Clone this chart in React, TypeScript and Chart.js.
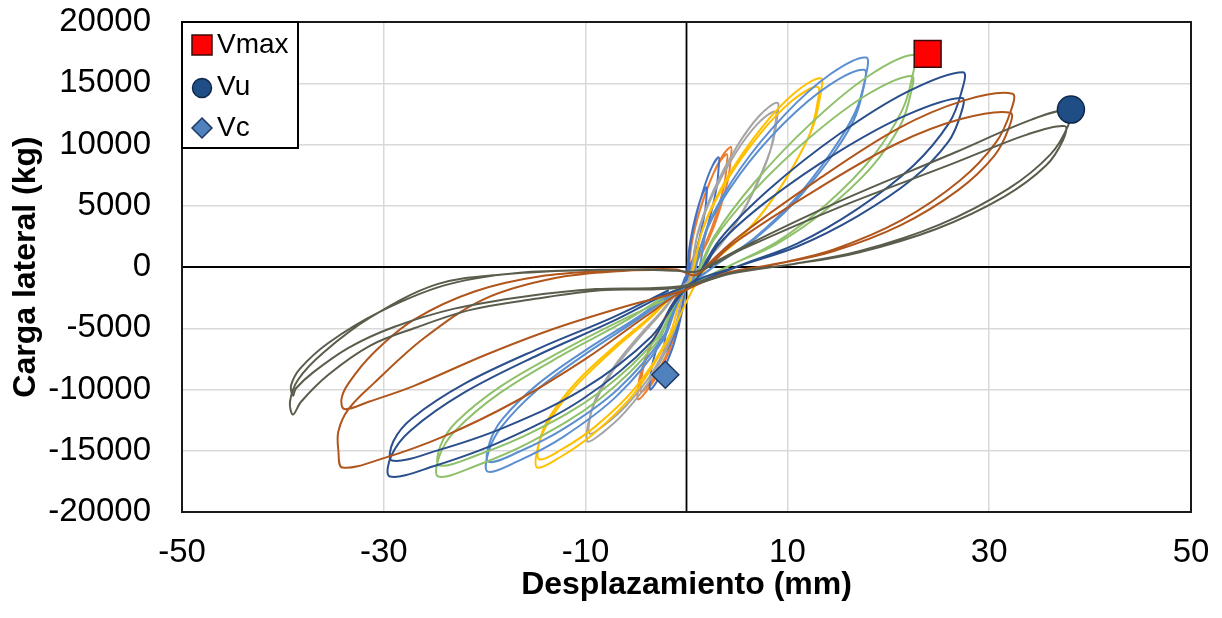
import React, { useEffect, useRef } from "react";
import { Chart, registerables } from "chart.js";

Chart.register(...registerables);

const FONT = "'Liberation Sans', Arial, Helvetica, sans-serif";

const xAxisTitle = "Desplazamiento (mm)";
const yAxisTitle = "Carga lateral (kg)";
const xMin = -50;
const xMax = 50;
const xStep = 20;
const yMin = -20000;
const yMax = 20000;
const yStep = 5000;

// Notable points
const vmaxX = [23.9];
const vmaxY = [17400];
const vuX = [38.1];
const vuY = [12850];
const vcX = [-2.1];
const vcY = [-8800];

// Hysteresis cycles (mm, kg)
const orangeX = [
  0.13, 0.53, 1.32, 2.42, 3.52, 4.4, 4.38, 4.14, 3.52, 2.64, 1.67, 0.66,
  -0.1, -0.58, -1.68, -2.98, -4.08, -4.8, -4.78, -4.46, -3.6, -2.4, -1.2, -0.29,
  0.12, 0.48, 1.2, 2.2, 3.2, 4.0, 3.98, 3.76, 3.2, 2.4, 1.52, 0.6,
  -0.09, -0.54, -1.58, -2.79, -3.83, -4.5, -4.48, -4.19, -3.38, -2.25, -1.13, -0.27,
];
const orangeY = [
  -784, 1960, 4606, 7154, 9016, 9800, 8820, 7252, 5292, 3136, 1372, 0,
  -1404, -3888, -6804, -8964, -10260, -10800, -9720, -8424, -6480, -4536, -2808, -1296,
  -736, 1840, 4324, 6716, 8464, 9200, 8280, 6808, 4968, 2944, 1288, 0,
  -1326, -3672, -6426, -8466, -9690, -10200, -9180, -7956, -6120, -4284, -2652, -1224,
];

const blueX = [
  0.06, 0.24, 0.6, 1.1, 1.6, 2.0, 1.99, 1.88, 1.6, 1.2, 0.76, 0.3,
  -0.04, -0.26, -0.77, -1.36, -1.87, -2.2, -2.19, -2.05, -1.65, -1.1, -0.55, -0.13,
  0.1, 0.38, 0.96, 1.76, 2.56, 3.2, 3.18, 3.01, 2.56, 1.92, 1.22, 0.48,
  -0.07, -0.43, -1.26, -2.23, -3.06, -3.6, -3.58, -3.35, -2.7, -1.8, -0.9, -0.22,
];
const blueY = [
  -520, 1300, 3055, 4745, 5980, 6500, 5850, 4810, 3510, 2080, 910, 0,
  -910, -2520, -4410, -5810, -6650, -7000, -6300, -5460, -4200, -2940, -1820, -840,
  -716, 1790, 4207, 6534, 8234, 8950, 8055, 6623, 4833, 2864, 1253, 0,
  -1300, -3600, -6300, -8300, -9500, -10000, -9000, -7800, -6000, -4200, -2600, -1200,
];

const grayX = [
  0.6, 1.08, 2.7, 4.95, 7.2, 9.0, 8.96, 8.46, 7.2, 5.4, 3.42, 1.35,
  -0.2, -1.18, -3.43, -6.08, -8.33, -9.8, -9.75, -9.11, -7.35, -4.9, -2.45, -0.59,
  0.26, 1.06, 2.64, 4.84, 7.04, 8.8, 8.76, 8.27, 7.04, 5.28, 3.34, 1.32,
  -0.19, -1.15, -3.36, -5.95, -8.16, -9.6, -9.55, -8.93, -7.2, -4.8, -2.4, -0.58,
];
const grayY = [
  -600, 2680, 6298, 9782, 12328, 13400, 12060, 9916, 7236, 4288, 1876, 0,
  -1853, -5130, -8978, -11828, -13538, -14250, -12825, -11115, -8550, -5985, -3705, -1710,
  -1016, 2540, 5969, 9271, 11684, 12700, 11430, 9398, 6858, 4064, 1778, 0,
  -1768, -4896, -8568, -11288, -12920, -13600, -12240, -10608, -8160, -5712, -3536, -1632,
];

const yellowX = [
  0.4, 1.6, 3.99, 7.32, 10.64, 13.3, 13.23, 12.5, 10.64, 7.98, 5.05, 2.0,
  0.2, -1.78, -5.18, -9.18, -12.58, -14.8, -14.73, -13.76, -11.1, -7.4, -3.7, -0.89,
  0.39, 1.56, 3.9, 7.15, 10.4, 13.0, 12.94, 12.22, 10.4, 7.8, 4.94, 1.95,
  -0.29, -1.75, -5.11, -9.05, -12.41, -14.6, -14.53, -13.58, -10.95, -7.3, -3.65, -1.5,
];
const yellowY = [
  -1232, 3080, 7238, 11242, 14168, 15400, 13860, 11396, 8316, 4928, 2156, 0,
  -2500, -5893, -10313, -13587, -15552, -16370, -14733, -12769, -9822, -6875, -4256, -1964,
  -1176, 2940, 6909, 10731, 13524, 14700, 13230, 10878, 7938, 4704, 2058, 0,
  -2041, -5652, -9891, -13031, -14915, -15700, -14130, -12246, -9420, -6594, -4082, -2300,
];

const lightBlueX = [
  0.53, 2.14, 5.34, 9.79, 14.24, 17.8, 17.71, 16.73, 14.24, 10.68, 6.76, 2.67,
  -0.39, -2.36, -6.9, -12.21, -16.75, -19.7, -19.6, -18.32, -14.78, -9.85, -4.93, -2.0,
  0.9, 2.11, 5.28, 9.68, 14.08, 17.6, 17.51, 16.54, 14.08, 10.56, 6.69, 2.64,
  -0.39, -2.35, -6.86, -12.15, -16.66, -19.6, -19.5, -18.23, -14.7, -9.8, -4.9, -1.18,
];
const lightBlueY = [
  -1368, 3420, 8037, 12483, 15732, 17100, 15390, 12654, 9234, 5472, 2394, 0,
  -2171, -6012, -10521, -13861, -15865, -16700, -15030, -13026, -10020, -7014, -4342, -2600,
  -800, 3220, 7567, 11753, 14812, 16100, 14490, 11914, 8694, 5152, 2254, 0,
  -2067, -5724, -10017, -13197, -15105, -15900, -14310, -12402, -9540, -6678, -4134, -1908,
];

const greenX = [
  0.68, 2.7, 6.75, 12.38, 18.0, 22.5, 22.39, 21.38, 18.45, 13.95, 9.0, 4.05,
  -0.49, -2.95, -8.61, -15.25, -20.91, -24.6, -24.48, -22.88, -18.45, -12.3, -6.15, -1.48,
  0.67, 2.68, 6.69, 12.27, 17.84, 22.3, 22.19, 21.19, 18.29, 13.83, 8.92, 4.01,
  -0.49, -2.94, -8.58, -15.19, -20.83, -24.5, -24.38, -22.79, -18.38, -12.25, -6.13, -2.2,
];
const greenY = [
  -1384, 2422, 6920, 11764, 15570, 17300, 15570, 12802, 8996, 5190, 2076, 0,
  -2223, -6156, -10773, -14193, -16245, -17100, -15390, -13338, -10260, -7182, -4446, -2052,
  -1248, 2184, 6240, 10608, 14040, 15600, 14040, 11544, 8112, 4680, 1872, 0,
  -2106, -5832, -10206, -13446, -15390, -16200, -14580, -12636, -9720, -6804, -4212, -2700,
];

const darkBlueX = [
  0.82, 3.29, 8.22, 15.07, 21.92, 27.4, 27.26, 26.03, 22.47, 16.99, 10.96, 4.93,
  -0.59, -3.53, -10.29, -18.23, -24.99, -29.4, -29.25, -27.34, -22.05, -14.7, -7.35, -2.5,
  0.82, 3.28, 8.19, 15.02, 21.84, 27.3, 27.16, 25.94, 22.39, 16.93, 10.92, 4.91,
  0.3, -3.5, -10.22, -18.1, -24.82, -29.2, -29.05, -27.16, -21.9, -14.6, -7.3, -1.75,
];
const darkBlueY = [
  -1272, 2226, 6360, 10812, 14310, 15900, 14310, 11766, 8268, 4770, 1908, 0,
  -2223, -6156, -10773, -14193, -16245, -17100, -15390, -13338, -10260, -7182, -4446, -2400,
  -1104, 1932, 5520, 9384, 12420, 13800, 12420, 10212, 7176, 4140, 1656, 0,
  -1500, -5688, -9954, -13114, -15010, -15800, -14220, -12324, -9480, -6636, -4108, -1896,
];

const brownX = [
  0.97, 4.85, 12.92, 21.0, 27.46, 32.3, 32.14, 30.69, 27.13, 21.32, 14.54, 9.04, 3.88,
  -0.6, -4, -10, -17, -24, -30, -34.1, -34.5, -34.5, -33.5, -31, -26, -20, -13, -6, -1,
  0.96, 4.82, 12.84, 20.87, 27.29, 32.1, 31.94, 30.5, 26.96, 21.19, 14.45, 8.99, 3.85,
  -0.6, -6, -13, -20, -27, -31.5, -33.9, -34.2, -33.5, -31, -27, -21, -14, -7, -1,
];
const brownY = [
  -708, 2264, 7075, 11320, 13584, 14150, 12735, 10188, 7075, 3821, 1415, 283, -566,
  -2100, -4000, -7500, -11000, -13800, -15600, -16370, -15000, -13400, -11600, -9500, -5800, -2600, -900, -300, -200,
  -630, 2016, 6300, 10080, 12096, 12600, 11340, 9072, 6300, 3402, 1260, 252, -504,
  -2000, -3200, -5000, -7200, -9700, -11000, -11600, -10800, -9500, -7000, -4300, -2000, -700, -300, -250,
];

const oliveX = [
  1.14, 5.7, 15.2, 26.6, 34.2, 38, 37.81, 36.1, 31.92, 25.08, 17.1, 10.64, 4.56,
  -0.8, -8.5, -15, -21.4, -27, -31.3, -35.5, -38.2, -39, -39.3, -38.5, -36, -31.3, -24.7, -18, -12, -5, -1,
  1.13, 5.63, 15.0, 26.25, 33.75, 37.5, 37.31, 35.63, 31.5, 24.75, 16.88, 10.5, 4.5,
  -0.8, -9, -16, -23, -29, -33.5, -37, -38.7, -39, -39.2, -38.3, -35.5, -30.5, -24, -17, -10, -4, -1,
];
const oliveY = [
  -384, 1664, 5376, 9344, 12032, 12800, 11520, 9216, 6400, 3456, 1280, 256, -512,
  -1700, -1900, -2600, -3500, -5000, -6400, -8800, -11000, -12050, -11000, -9200, -7000, -4100, -1400, -600, -300, -200, -300,
  -345, 1495, 4830, 8395, 10810, 11500, 10350, 8280, 5750, 3105, 1150, 230, -460,
  -1600, -1800, -2400, -3400, -4900, -6600, -8600, -9900, -10500, -9700, -8300, -6200, -3700, -1500, -500, -250, -200, -300,
];

const loopSeries = [
  { name: "olive", color: "#5A5D4C", xs: oliveX, ys: oliveY },
  { name: "brown", color: "#B0561C", xs: brownX, ys: brownY },
  { name: "darkBlue", color: "#2A4F8C", xs: darkBlueX, ys: darkBlueY },
  { name: "green", color: "#8FC06A", xs: greenX, ys: greenY },
  { name: "lightBlue", color: "#5B8FCF", xs: lightBlueX, ys: lightBlueY },
  { name: "yellow", color: "#FFC000", xs: yellowX, ys: yellowY },
  { name: "gray", color: "#A5A5A5", xs: grayX, ys: grayY },
  { name: "blue", color: "#4472C4", xs: blueX, ys: blueY },
  { name: "orange", color: "#ED7D31", xs: orangeX, ys: orangeY },
];

const legendItems = [
  { label: "Vmax", style: "rect", fill: "#FF0000", stroke: "#3A0A0A" },
  { label: "Vu", style: "circle", fill: "#1F4E86", stroke: "#10294A" },
  { label: "Vc", style: "diamond", fill: "#4F81BD", stroke: "#1F3864" },
];

const zip = (xs: number[], ys: number[]) => xs.map((x, i) => ({ x, y: ys[i] }));

const zeroLinesPlugin = {
  id: "zeroLines",
  beforeDatasetsDraw(chart: any) {
    const { ctx, chartArea, scales } = chart;
    const x0 = scales.x.getPixelForValue(0);
    const y0 = scales.y.getPixelForValue(0);
    ctx.save();
    ctx.strokeStyle = "#000";
    ctx.lineWidth = 1.8;
    ctx.beginPath();
    ctx.moveTo(x0, chartArea.top);
    ctx.lineTo(x0, chartArea.bottom);
    ctx.moveTo(chartArea.left, y0);
    ctx.lineTo(chartArea.right, y0);
    ctx.stroke();
    ctx.restore();
  },
};

const frameLegendPlugin = {
  id: "frameLegend",
  afterDraw(chart: any) {
    const { ctx, chartArea } = chart;
    const { left, top, right, bottom } = chartArea;
    ctx.save();
    ctx.strokeStyle = "#1a1a1a";
    ctx.lineWidth = 2;
    ctx.strokeRect(left, top, right - left, bottom - top);

    // legend box
    const bw = 116;
    const bh = 126;
    ctx.fillStyle = "#fff";
    ctx.fillRect(left, top, bw, bh);
    ctx.strokeStyle = "#000";
    ctx.lineWidth = 2;
    ctx.strokeRect(left, top, bw, bh);
    const rows = [23, 65, 106];
    legendItems.forEach((it, i) => {
      const cx = left + 20;
      const cy = top + rows[i];
      ctx.fillStyle = it.fill;
      ctx.strokeStyle = it.stroke;
      ctx.lineWidth = 1.5;
      ctx.beginPath();
      if (it.style === "rect") {
        ctx.rect(cx - 10, cy - 10, 20, 20);
      } else if (it.style === "circle") {
        ctx.arc(cx, cy + 1, 9.5, 0, Math.PI * 2);
      } else {
        ctx.moveTo(cx, cy - 10);
        ctx.lineTo(cx + 10, cy);
        ctx.lineTo(cx, cy + 10);
        ctx.lineTo(cx - 10, cy);
        ctx.closePath();
      }
      ctx.fill();
      ctx.stroke();
      ctx.fillStyle = "#000";
      ctx.font = `28px ${FONT}`;
      ctx.textAlign = "left";
      ctx.textBaseline = "middle";
      ctx.fillText(it.label, left + 35, cy);
    });
    ctx.restore();
  },
};

export default function App() {
  const ref = useRef<HTMLCanvasElement>(null);

  useEffect(() => {
    document.body.style.margin = "0";
    const canvas = ref.current;
    if (!canvas) return;

    const datasets: any[] = [
      {
        label: "Vmax",
        data: zip(vmaxX, vmaxY),
        pointStyle: "rect",
        pointRadius: 19,
        backgroundColor: "#FF0000",
        borderColor: "#3A0A0A",
        borderWidth: 1.5,
        showLine: false,
        order: 0,
      },
      {
        label: "Vu",
        data: zip(vuX, vuY),
        pointStyle: "circle",
        pointRadius: 13.5,
        backgroundColor: "#1F4E86",
        borderColor: "#10294A",
        borderWidth: 1.5,
        showLine: false,
        order: 0,
      },
      {
        label: "Vc",
        data: zip(vcX, vcY),
        pointStyle: "rectRot",
        pointRadius: 13.5,
        backgroundColor: "#4F81BD",
        borderColor: "#1F3864",
        borderWidth: 1.5,
        showLine: false,
        order: 0,
      },
      ...loopSeries.map((s, i) => ({
        label: s.name,
        data: zip(s.xs, s.ys),
        showLine: true,
        borderColor: s.color,
        backgroundColor: s.color,
        borderWidth: 2,
        pointRadius: 0,
        tension: 0.35,
        fill: false,
        order: i + 1,
      })),
    ];

    const chart = new Chart(canvas, {
      type: "scatter",
      data: { datasets },
      options: {
        animation: false,
        responsive: false,
        maintainAspectRatio: false,
        layout: { padding: { top: 22, right: 31, left: 0, bottom: 0 } },
        plugins: {
          legend: { display: false },
          tooltip: { enabled: false },
        },
        scales: {
          x: {
            type: "linear",
            min: xMin,
            max: xMax,
            ticks: {
              stepSize: xStep,
              padding: 21,
              color: "#000",
              font: { family: FONT, size: 33 },
              callback: (v: any) => String(v),
            },
            grid: { color: "#D9D9D9", lineWidth: 1.5, drawTicks: false },
            border: { display: false },
            title: {
              display: true,
              text: xAxisTitle,
              color: "#000",
              font: { family: FONT, size: 32, weight: "bold" },
              padding: { top: 0, bottom: 14 },
            },
            afterFit: (s: any) => {
              s.height = 106;
              s.paddingLeft = 0;
              s.paddingRight = 0;
            },
          },
          y: {
            type: "linear",
            min: yMin,
            max: yMax,
            ticks: {
              stepSize: yStep,
              padding: 31,
              color: "#000",
              font: { family: FONT, size: 33 },
              callback: (v: any) => String(v),
            },
            grid: { color: "#D9D9D9", lineWidth: 1.5, drawTicks: false },
            border: { display: false },
            title: {
              display: true,
              text: yAxisTitle,
              color: "#000",
              font: { family: FONT, size: 32, weight: "bold" },
              padding: { top: 7, bottom: 0 },
            },
            afterFit: (s: any) => {
              s.width = 182;
              s.paddingTop = 0;
              s.paddingBottom = 0;
            },
          },
        },
      } as any,
      plugins: [zeroLinesPlugin, frameLegendPlugin],
    });

    return () => chart.destroy();
  }, []);

  return (
    <div style={{ width: 1222, height: 618 }}>
      <canvas ref={ref} width={1222} height={618} style={{ display: "block" }} />
    </div>
  );
}
